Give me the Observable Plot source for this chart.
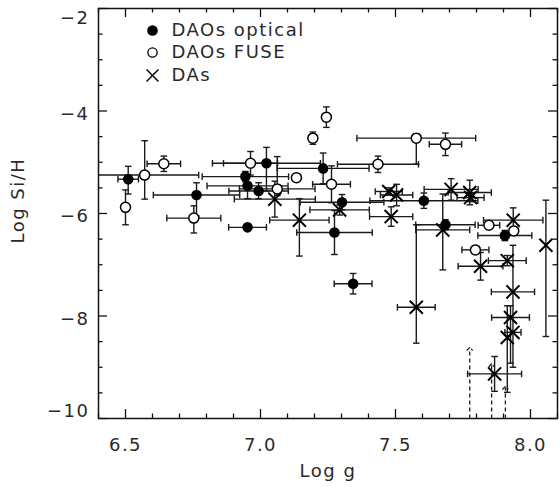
<!DOCTYPE html>
<html><head><meta charset="utf-8">
<script src="https://cdn.jsdelivr.net/npm/d3@7"></script>
<script src="https://cdn.jsdelivr.net/npm/@observablehq/plot@0.6"></script>
<style>body{margin:0;background:#fff}</style>
</head><body><div id="chart"></div>
<script>
// ---- data ----
const seriesNames = ["DAOs optical", "DAOs FUSE", "DAs"];

// DAOs optical (filled circles)
const optX      = [6.51, 6.763, 6.952, 6.944, 6.952, 6.993, 7.022, 7.232, 7.302, 7.274, 7.343, 7.605, 7.685, 7.905];
const optY      = [-5.33, -5.64, -6.27, -5.28, -5.46, -5.56, -5.02, -5.12, -5.78, -6.37, -7.37, -5.75, -6.22, -6.43];
const optXErr   = [0.038, 0.16, 0.07, 0.16, 0.15, 0.11, 0.2, 0.17, 0.155, 0.14, 0.07, 0.2, 0.11, 0.1];
const optYErrLo = [0.29, 0.41, 0, 0.1, 0.25, 0.15, 0.54, 0.3, 0.15, 0.43, 0.2, 0.15, 0.1, 0.1];
const optYErrHi = [0.25, 0.24, 0, 0.1, 0.21, 0.16, 0.31, 0.3, 0.15, 0.43, 0.2, 0.15, 0.1, 0.1];

// DAOs FUSE (open circles)
const fuseX      = [6.50, 6.571, 6.642, 6.753, 6.963, 7.062, 7.133, 7.194, 7.244, 7.263, 7.435, 7.577, 7.685, 7.846, 7.938, 7.796];
const fuseY      = [-5.88, -5.25, -5.03, -6.09, -5.02, -5.52, -5.30, -4.53, -4.12, -5.43, -5.04, -4.53, -4.65, -6.23, -6.34, -6.71];
const fuseXErr   = [0, 0.2, 0.062, 0.1, 0.1, 0.14, 0, 0, 0, 0.07, 0.15, 0.22, 0.06, 0.04, 0, 0.05];
const fuseYErrLo = [0.34, 0.47, 0.15, 0.29, 0.23, 0.13, 0, 0.12, 0.2, 0.36, 0.16, 0.51, 0.22, 0, 0, 0];
const fuseYErrHi = [0.34, 0.67, 0.15, 0.24, 0.23, 0.63, 0, 0.12, 0.2, 0.36, 0.16, 0.08, 0.22, 0, 0, 0];

// DAs (crosses)
const daX      = [7.053, 7.144, 7.293, 7.475, 7.504, 7.484, 7.706, 7.775, 7.778, 7.675, 7.577, 7.936, 7.815, 7.914, 7.935, 7.926, 7.935, 7.914, 7.867, 8.057];
const daY      = [-5.72, -6.13, -5.93, -5.57, -5.64, -6.06, -5.53, -5.59, -5.69, -6.32, -7.83, -6.13, -7.03, -6.92, -7.53, -8.03, -8.32, -8.42, -9.13, -6.62];
const daXErr   = [0.15, 0.11, 0.11, 0.05, 0.06, 0.08, 0.1, 0.08, 0.05, 0.1, 0.07, 0.11, 0.083, 0.07, 0.08, 0.07, 0.03, 0, 0.1, 0];
const daYErrLo = [0.35, 0.70, 0.1, 0.07, 0.21, 0.19, 0.21, 0.24, 0.08, 0.78, 0.70, 0.24, 0.27, 0.1, 1.47, 0.89, 0, 1.07, 0.34, 1.78];
const daYErrHi = [0.35, 0.42, 0.1, 0.07, 0.21, 0.19, 0.21, 0.24, 0.08, 0.70, 1.61, 0.24, 0.27, 0.1, 0.91, 0.23, 0, 0.62, 0.34, 0.88];

// DAs upper limits (dashed)
const limX = [7.775, 7.856, 7.907];
const limY = [-8.64, -8.96, -9.40];

// axes
const xDomain = [6.4, 8.1];
const yDomain = [-10, -2];
const xMajorTicks = [6.5, 7.0, 7.5, 8.0];
const yMajorTicks = [-10, -8, -6, -4, -2];
const xLabel = "Log g";
const yLabel = "Log Si/H";

// ---- build table ----
function rows(series, xs, ys, xe, lo, hi) {
  return xs.map((x, i) => ({series, x, y: ys[i], xerr: xe[i], ylo: ys[i] - lo[i], yhi: ys[i] + hi[i], hasY: (lo[i] + hi[i]) > 0}));
}
const opt = rows(seriesNames[0], optX, optY, optXErr, optYErrLo, optYErrHi);
const fuse = rows(seriesNames[1], fuseX, fuseY, fuseXErr, fuseYErrLo, fuseYErrHi);
const das = rows(seriesNames[2], daX, daY, daXErr, daYErrLo, daYErrHi);
const all = [...opt, ...fuse, ...das];
const withX = all.filter(d => d.xerr > 0);
const withY = all.filter(d => d.hasY);
const limits = limX.map((x, i) => ({x, y: limY[i]}));

const xMinorTicks = d3.range(64, 82).map(v => v / 10).filter(v => !xMajorTicks.some(t => Math.abs(t - v) < 1e-6));
const yMinorTicks = d3.range(-20, -3).map(v => v / 2).filter(v => !yMajorTicks.includes(v));

// cap symbols
const capV = {draw(ctx, size) { const h = Math.sqrt(size / Math.PI); ctx.moveTo(0, -h); ctx.lineTo(0, h); }};
const capH = {draw(ctx, size) { const h = Math.sqrt(size / Math.PI); ctx.moveTo(-h, 0); ctx.lineTo(h, 0); }};

const W = 559, H = 487, mt = 8, mb = 69, ml = 98, mr = 2;
const iw = W - ml - mr, ih = H - mt - mb;
const ink = "#111";
const txt = "#2a2a2a";
const barStroke = "#1a1a1a";
const fmtX = d3.format(".1f");
const fmtY = d => d3.format("d")(d).replace("-", "\u2212");

const chart = Plot.plot({
  width: W, height: H,
  marginTop: mt, marginBottom: mb, marginLeft: ml, marginRight: mr,
  style: "font-family: 'DejaVu Sans', sans-serif; font-size: 18px; letter-spacing: 1.5px; color: #222; background: #fff;",
  x: {domain: xDomain, axis: null},
  y: {domain: yDomain, axis: null},
  marks: [
    // ticks (inward on all sides)
    Plot.tickX(xMajorTicks, {x: d => d, insetTop: ih - 9, stroke: ink, strokeWidth: 1.3}),
    Plot.tickX(xMinorTicks, {x: d => d, insetTop: ih - 4.5, stroke: ink, strokeWidth: 1.3}),
    Plot.tickX(xMajorTicks, {x: d => d, insetBottom: ih - 9, stroke: ink, strokeWidth: 1.3}),
    Plot.tickX(xMinorTicks, {x: d => d, insetBottom: ih - 4.5, stroke: ink, strokeWidth: 1.3}),
    Plot.tickY(yMajorTicks, {y: d => d, insetRight: iw - 9, stroke: ink, strokeWidth: 1.3}),
    Plot.tickY(yMinorTicks, {y: d => d, insetRight: iw - 4.5, stroke: ink, strokeWidth: 1.3}),
    Plot.tickY(yMajorTicks, {y: d => d, insetLeft: iw - 9, stroke: ink, strokeWidth: 1.3}),
    Plot.tickY(yMinorTicks, {y: d => d, insetLeft: iw - 4.5, stroke: ink, strokeWidth: 1.3}),

    // tick labels
    Plot.text(xMajorTicks, {x: d => d, frameAnchor: "bottom", dy: 27, text: fmtX, lineAnchor: "middle", textAnchor: "middle", fill: txt}),
    Plot.text(yMajorTicks.filter(d => d !== yDomain[0] && d !== yDomain[1]), {y: d => d, frameAnchor: "left", dx: -9, dy: 3, text: fmtY, textAnchor: "end", lineAnchor: "middle", fill: txt}),
    Plot.text([yDomain[1]], {y: d => d, frameAnchor: "left", dx: -9, dy: 10, text: fmtY, textAnchor: "end", lineAnchor: "middle", fill: txt}),
    Plot.text([yDomain[0]], {y: d => d, frameAnchor: "left", dx: -9, dy: -7, text: fmtY, textAnchor: "end", lineAnchor: "middle", fill: txt}),

    // axis titles
    Plot.text([xLabel], {frameAnchor: "bottom", dy: 53, lineAnchor: "middle", fill: txt}),
    Plot.text([yLabel], {frameAnchor: "left", dx: -80, dy: 30, rotate: -90, lineAnchor: "middle", fill: txt}),

    // upper limits
    Plot.link(limits, {x1: "x", x2: "x", y1: () => yDomain[0], y2: "y", stroke: barStroke, strokeWidth: 1.3, strokeDasharray: "4,3", markerEnd: "arrow"}),

    // error bars
    Plot.link(withX, {x1: d => d.x - d.xerr, x2: d => d.x + d.xerr, y1: "y", y2: "y", stroke: barStroke, strokeWidth: 1.4, clip: true}),
    Plot.dot(withX, {x: d => d.x - d.xerr, y: "y", symbol: capV, r: 3.3, stroke: barStroke, strokeWidth: 1.4, fill: "none", clip: true}),
    Plot.dot(withX, {x: d => d.x + d.xerr, y: "y", symbol: capV, r: 3.3, stroke: barStroke, strokeWidth: 1.4, fill: "none", clip: true}),
    Plot.link(withY, {x1: "x", x2: "x", y1: "ylo", y2: "yhi", stroke: barStroke, strokeWidth: 1.4, clip: true}),
    Plot.dot(withY, {x: "x", y: "ylo", symbol: capH, r: 3.3, stroke: barStroke, strokeWidth: 1.4, fill: "none"}),
    Plot.dot(withY, {x: "x", y: "yhi", symbol: capH, r: 3.3, stroke: barStroke, strokeWidth: 1.4, fill: "none"}),

    // symbols
    Plot.dot(fuse, {x: "x", y: "y", r: 5, fill: "#fff", stroke: "#000", strokeWidth: 1.5}),
    Plot.dot(opt, {x: "x", y: "y", r: 5.3, fill: "#000", stroke: "none"}),
    Plot.dot(das, {x: "x", y: "y", r: 6, symbol: "times", stroke: "#000", strokeWidth: 2}),

    // legend
    Plot.dot([seriesNames[0]], {frameAnchor: "top-left", dx: 54, dy: 22, r: 5.3, fill: "#000", stroke: "none"}),
    Plot.dot([seriesNames[1]], {frameAnchor: "top-left", dx: 54, dy: 44, r: 4.6, fill: "#fff", stroke: "#000", strokeWidth: 1.3}),
    Plot.dot([seriesNames[2]], {frameAnchor: "top-left", dx: 54, dy: 67, r: 5.5, symbol: "times", stroke: "#000", strokeWidth: 1.4}),
    Plot.text([seriesNames[0]], {frameAnchor: "top-left", dx: 73, dy: 22, textAnchor: "start", lineAnchor: "middle", fill: txt}),
    Plot.text([seriesNames[1]], {frameAnchor: "top-left", dx: 73, dy: 44, textAnchor: "start", lineAnchor: "middle", fill: txt}),
    Plot.text([seriesNames[2]], {frameAnchor: "top-left", dx: 73, dy: 67, textAnchor: "start", lineAnchor: "middle", fill: txt}),

    Plot.frame({stroke: ink, strokeWidth: 1.5})
  ]
});
document.getElementById("chart").appendChild(chart);
</script></body></html>
